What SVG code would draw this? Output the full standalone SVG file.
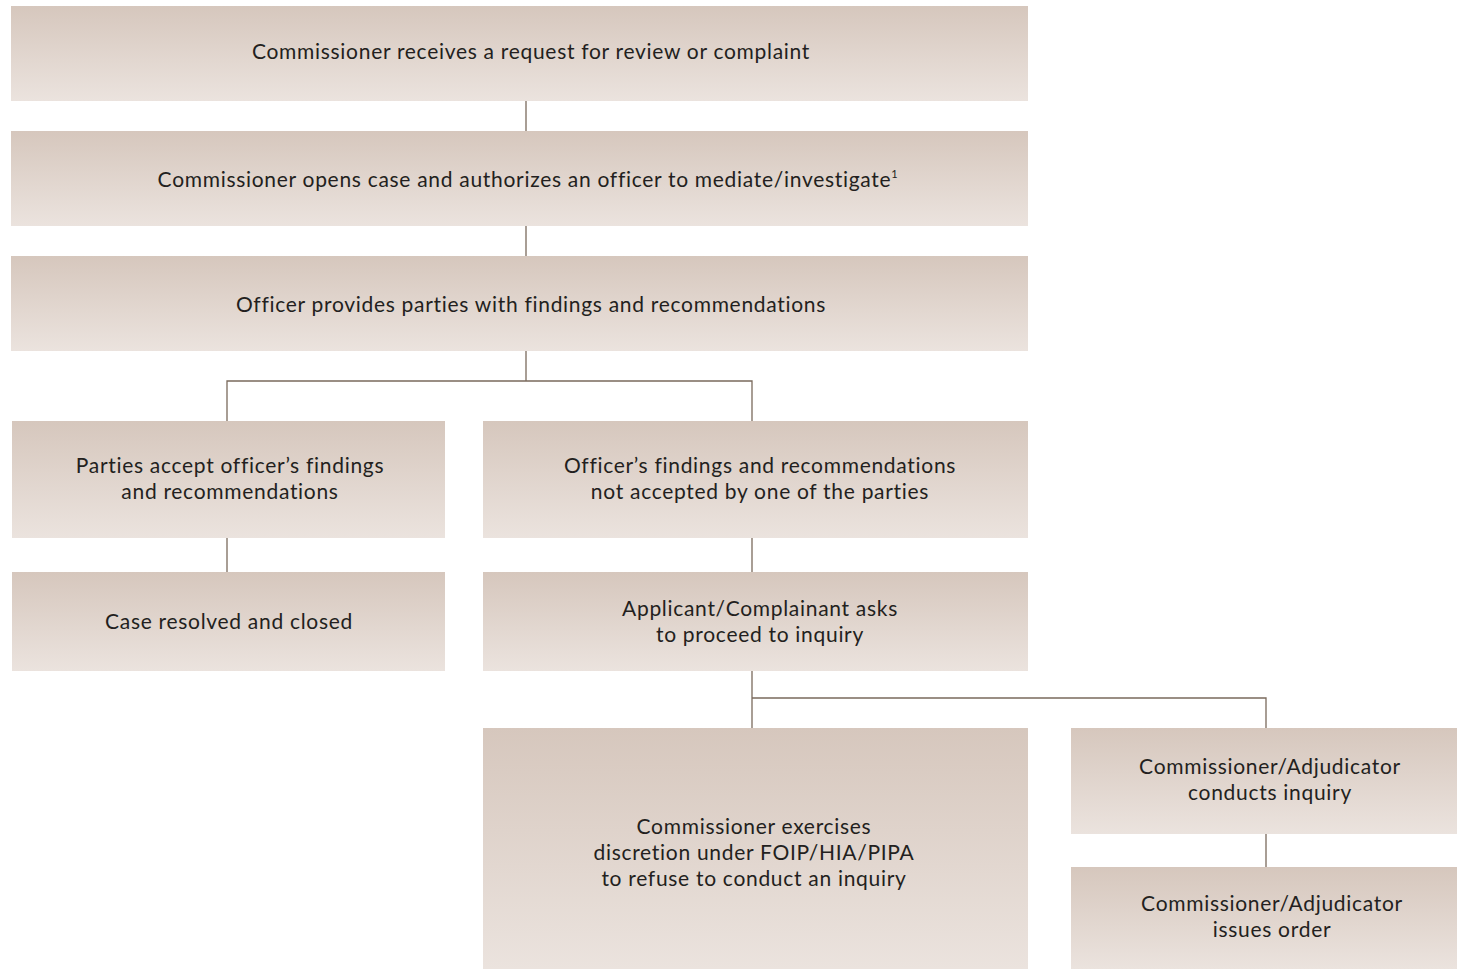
<svg xmlns="http://www.w3.org/2000/svg" width="1457" height="969" viewBox="0 0 1457 969">
<defs>
<linearGradient id="g" x1="0" y1="0" x2="0" y2="1">
<stop offset="0" stop-color="#d6c7bd"/>
<stop offset="1" stop-color="#ebe3de"/>
</linearGradient>
<style>
rect{fill:url(#g);}
text{font-family:Lato,"Open Sans",sans-serif;font-size:21px;letter-spacing:0.7px;fill:#231f20;text-anchor:middle;}
.c line,.c polyline{stroke:#7a6a5c;stroke-width:1.3;fill:none;}
</style>
</defs>
<rect width="1457" height="969" style="fill:#fff"/>
<g class="c" id="connectors">
<line x1="526" y1="101" x2="526" y2="131"/>
<line x1="526" y1="226" x2="526" y2="256"/>
<line x1="526" y1="351" x2="526" y2="381"/>
<polyline points="227,421 227,381 752,381 752,421"/>
<line x1="227" y1="538" x2="227" y2="572"/>
<line x1="752" y1="538" x2="752" y2="572"/>
<line x1="752" y1="671" x2="752" y2="728"/>
<polyline points="752,698 1266,698 1266,728"/>
<line x1="1266" y1="834" x2="1266" y2="867"/>
</g>
<g id="n1"><rect x="11" y="6" width="1017" height="95"/><text x="531" y="59">Commissioner receives a request for review or complaint</text></g>
<g id="n2"><rect x="11" y="131" width="1017" height="95"/><text x="528" y="187">Commissioner opens case and authorizes an officer to mediate/investigate<tspan font-size="11" dy="-9">1</tspan></text></g>
<g id="n3"><rect x="11" y="256" width="1017" height="95"/><text x="531" y="312">Officer provides parties with findings and recommendations</text></g>
<g id="n4"><rect x="12" y="421" width="433" height="117"/><text x="230" y="473">Parties accept officer’s findings</text><text x="230" y="498.5">and recommendations</text></g>
<g id="n5"><rect x="483" y="421" width="545" height="117"/><text x="760" y="473">Officer’s findings and recommendations</text><text x="760" y="498.5">not accepted by one of the parties</text></g>
<g id="n6"><rect x="12" y="572" width="433" height="99"/><text x="229" y="629">Case resolved and closed</text></g>
<g id="n7"><rect x="483" y="572" width="545" height="99"/><text x="760" y="616">Applicant/Complainant asks</text><text x="760" y="642">to proceed to inquiry</text></g>
<g id="n8"><rect x="483" y="728" width="545" height="241"/><text x="754" y="834">Commissioner exercises</text><text x="754" y="860">discretion under FOIP/HIA/PIPA</text><text x="754" y="886">to refuse to conduct an inquiry</text></g>
<g id="n9"><rect x="1071" y="728" width="386" height="106"/><text x="1270" y="774">Commissioner/Adjudicator</text><text x="1270" y="799.5">conducts inquiry</text></g>
<g id="n10"><rect x="1071" y="867" width="386" height="102"/><text x="1272" y="911">Commissioner/Adjudicator</text><text x="1272" y="937">issues order</text></g>
</svg>
